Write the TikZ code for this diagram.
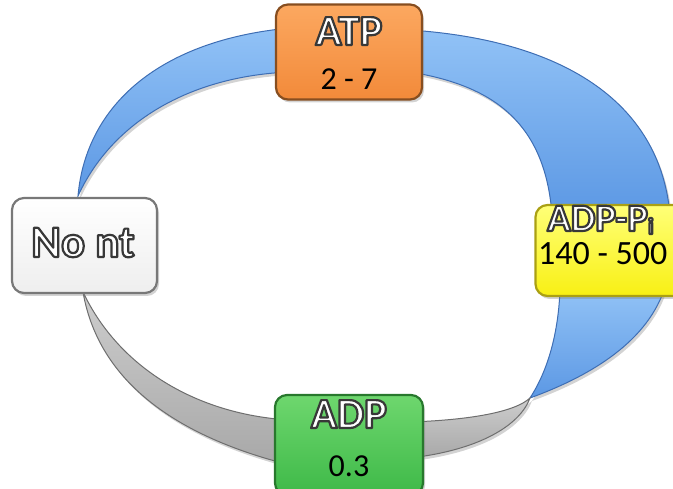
\documentclass[tikz,border=0pt]{standalone}
\usepackage{fontspec}
\setmainfont{Carlito}
\usetikzlibrary{shadows}

\definecolor{bluetop}{RGB}{145,194,246}
\definecolor{bluebot}{RGB}{92,152,228}
\definecolor{blueedge}{RGB}{62,110,180}
\definecolor{graytop}{RGB}{205,205,205}
\definecolor{graybot}{RGB}{168,168,168}
\definecolor{grayedge}{RGB}{110,110,110}
\definecolor{orangetop}{RGB}{252,168,96}
\definecolor{orangebot}{RGB}{242,138,58}
\definecolor{orangeedge}{RGB}{135,78,32}
\definecolor{yellowtop}{RGB}{255,255,120}
\definecolor{yellowbot}{RGB}{248,240,20}
\definecolor{yellowedge}{RGB}{170,160,20}
\definecolor{greentop}{RGB}{110,215,110}
\definecolor{greenbot}{RGB}{62,185,72}
\definecolor{greenedge}{RGB}{40,120,45}
\definecolor{whitebot}{RGB}{238,238,238}
\definecolor{whiteedge}{RGB}{120,120,120}

% white letters with a dark stroked outline (PDF text render mode 2)
\newcommand\outlined[1]{\special{pdf:literal direct 2 Tr 2.2 w 1 j 0.22 G}#1\special{pdf:literal direct 0 Tr}}

\tikzset{
  softshadow/.style={drop shadow={opacity=0.35, shadow xshift=2pt, shadow yshift=-3pt}},
  blueband/.style={top color=bluetop, bottom color=bluebot, draw=blueedge, line width=1pt, softshadow},
  grayband/.style={top color=graytop, bottom color=graybot, draw=grayedge, line width=1pt, softshadow},
  statebox/.style={rectangle, rounded corners=12pt, line width=2.2pt, softshadow, inner sep=0pt},
  title/.style={text=white, font=\bfseries\fontsize{43}{43}\selectfont, anchor=base, inner sep=0pt},
  value/.style={text=black, font=\fontsize{32}{32}\selectfont, anchor=base, inner sep=0pt}
}

\begin{document}
\begin{tikzpicture}[x=1pt, y=-1pt]
\useasboundingbox (0,0) rectangle (673,489);
\clip (0,0) rectangle (673,489);

% cycle bands
\path[blueband] (78,196) .. controls (86,105) and (160,40) .. (290,28)
  -- (290,72) .. controls (190,76) and (112,122) .. (78,196) -- cycle;
\path[blueband] (410,30) .. controls (560,40) and (660,100) .. (670,215)
  -- (552,215) .. controls (545,120) and (490,85) .. (410,72) -- cycle;
\path[blueband] (560,290) .. controls (558,340) and (545,375) .. (530,398)
  .. controls (585,378) and (645,345) .. (664,290) -- cycle;
\path[grayband] (83,292) .. controls (100,390) and (190,440) .. (290,465)
  -- (290,420) .. controls (200,415) and (120,370) .. (83,292) -- cycle;
\path[grayband] (410,422) .. controls (470,420) and (515,412) .. (530,398)
  .. controls (520,425) and (480,450) .. (410,458) -- cycle;

% state boxes
\node[statebox, top color=orangetop, bottom color=orangebot, draw=orangeedge,
      minimum width=146pt, minimum height=95pt] (atp) at (349,52) {};
\node[statebox, top color=white, bottom color=whitebot, draw=whiteedge,
      minimum width=145pt, minimum height=95pt] (nont) at (84.5,245.5) {};
\node[statebox, top color=yellowtop, bottom color=yellowbot, draw=yellowedge,
      minimum width=165pt, minimum height=91pt] (adppi) at (618,250.5) {};
\node[statebox, top color=greentop, bottom color=greenbot, draw=greenedge,
      minimum width=148pt, minimum height=100pt] (adp) at (349,445) {};

% labels
\node[title] (atp-t) at (349,45) {\outlined{ATP}};
\node[value] (atp-v) at (349,90) {2 - 7};
\node[title, font=\bfseries\fontsize{45}{45}\selectfont] (nont-t) at (83,257) {\outlined{No nt}};
\node[title, anchor=base west, font=\bfseries\fontsize{39}{39}\selectfont] (adppi-t) at (547,231) {\outlined{ADP-P}\raisebox{-3pt}{\fontsize{23}{23}\selectfont\outlined{i}}};
\node[value, anchor=base west, font=\fontsize{34}{34}\selectfont] (adppi-v) at (538,265) {140 - 500};
\node[title] (adp-t) at (349,428) {\outlined{ADP}};
\node[value] (adp-v) at (349,476) {0.3};
\end{tikzpicture}
\end{document}
